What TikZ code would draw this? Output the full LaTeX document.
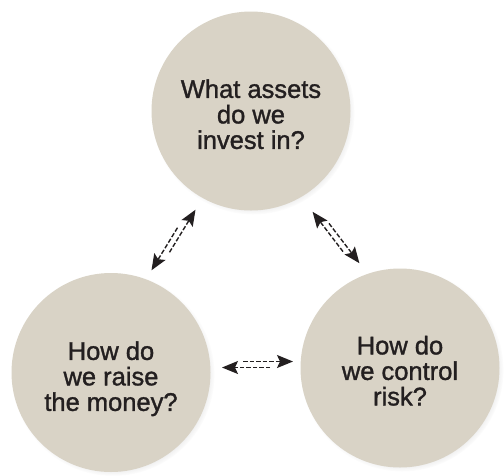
\documentclass[tikz,border=0pt]{standalone}
\usepackage{fontspec}
\setmainfont{Liberation Sans}[FakeBold=1.3]
\usetikzlibrary{shadows,calc,arrows.meta}
\definecolor{discfill}{RGB}{217,211,198}
\definecolor{ink}{RGB}{35,31,32}
\tikzset{
  disc/.style={circle, fill=discfill, minimum size=199pt, inner sep=0pt, align=center,
    font=\fontsize{25.5}{25.5}\selectfont, text=ink,
    circular drop shadow={shadow xshift=2pt, shadow yshift=-2pt, shadow scale=1.02, opacity=0.3}},
  link/.style={draw=ink, line width=1.4pt, dash pattern=on 4.5pt off 2pt,
    -{Stealth[length=16pt,width=13pt,inset=3pt]}}
}
\begin{document}
\begin{tikzpicture}[x=1pt,y=-1pt]
\fill[white] (0,0) rectangle (504,475);
\useasboundingbox (0,0) rectangle (504,475);
\node[disc] (T) at (251,111) {\rule{0pt}{25pt}What assets\\do we\\invest in?};
\node[disc] (L) at (111,372.5) {\rule{0pt}{31pt}How do\\we raise\\the money?};
\node[disc] (R) at (400,368) {\rule{0pt}{24pt}How do\\we control\\risk?};
% free ends of the double-dashed arrows
\coordinate (tl1s) at (169.5,252.3); \coordinate (tl1e) at (195.5,209.7);
\coordinate (tl2s) at (177.5,227.7); \coordinate (tl2e) at (151.5,270.3);
\coordinate (tr1s) at (343,251.6);   \coordinate (tr1e) at (312.6,211.8);
\coordinate (tr2s) at (329,223.4);   \coordinate (tr2e) at (359.4,263.2);
\coordinate (lr1s) at (243,361.5);   \coordinate (lr1e) at (293,361.5);
\coordinate (lr2s) at (270,367.5);   \coordinate (lr2e) at (222,367.5);
% T <-> L
\draw[link] (tl1s) -- (tl1e);
\draw[link] (tl2s) -- (tl2e);
% T <-> R
\draw[link] (tr1s) -- (tr1e);
\draw[link] (tr2s) -- (tr2e);
% L <-> R
\draw[link] (lr1s) -- (lr1e);
\draw[link] (lr2s) -- (lr2e);
\end{tikzpicture}
\end{document}
